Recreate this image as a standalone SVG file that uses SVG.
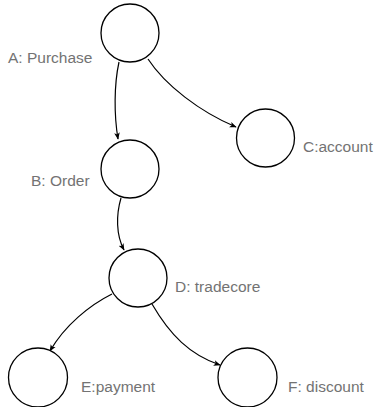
<svg xmlns="http://www.w3.org/2000/svg" width="378" height="407" viewBox="0 0 378 407">
<style>
.node circle{fill:#fff;stroke:#000;stroke-width:1.3}
.node text{font-family:"Liberation Sans",Arial,sans-serif;font-size:15.5px;fill:#737373}
.edges path{fill:none;stroke:#000;stroke-width:1.2;marker-end:url(#arr)}
</style>
<defs>
<marker id="arr" viewBox="0 0 10 10" refX="9" refY="5" markerWidth="7" markerHeight="7" markerUnits="userSpaceOnUse" orient="auto">
<path d="M0,1 L10,5 L0,9 L2.5,5 Z" fill="#000"/>
</marker>
</defs>
<rect width="378" height="407" fill="#fff"/>
<g class="edges">
<path d="M119,62 C114,85 114,115 118,139"/>
<path d="M148,59 C165,85 200,112 236,127"/>
<path d="M121,198 C116,215 116,235 124,250"/>
<path d="M112,294 C90,305 65,325 50,351"/>
<path d="M152,304 C170,335 190,355 220,365"/>
</g>
<g id="A" class="node"><circle cx="130" cy="33" r="29"/><text x="8" y="63">A: Purchase</text></g>
<g id="B" class="node"><circle cx="130" cy="169" r="29"/><text x="31" y="186">B: Order</text></g>
<g id="C" class="node"><circle cx="265.5" cy="138" r="29"/><text x="303" y="152">C:account</text></g>
<g id="D" class="node"><circle cx="138" cy="278" r="29"/><text x="175" y="292">D: tradecore</text></g>
<g id="E" class="node"><circle cx="38" cy="377.5" r="29.5"/><text x="81" y="392">E:payment</text></g>
<g id="F" class="node"><circle cx="247.5" cy="377.5" r="29.5"/><text x="288" y="392">F: discount</text></g>
</svg>
